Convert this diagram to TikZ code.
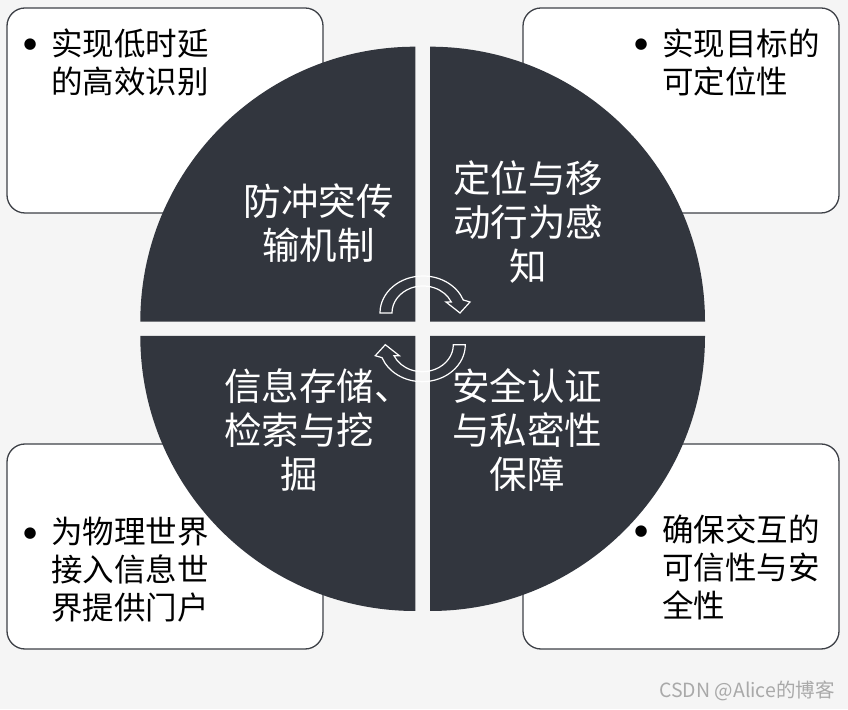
\documentclass[tikz,border=0pt]{standalone}
\usepackage{fontspec}
\setmainfont{Noto Sans CJK SC}
\newfontfamily\dotfont{DejaVu Sans}
\usepackage{xcolor}
\usetikzlibrary{calc}
\definecolor{bgGray}{HTML}{F5F5F5}
\definecolor{sectorDark}{HTML}{32363E}
\definecolor{frameGray}{HTML}{3E4147}
\definecolor{markGray}{HTML}{A9A9A9}
\tikzset{
    infobox/.style={rectangle, draw=frameGray, line width=1.3pt, fill=white, rounded corners=18pt, minimum width=316pt, minimum height=205pt, inner sep=0pt},
    sector/.style={fill=sectorDark},
    sectortext/.style={text=white, align=center, inner sep=0pt, font=\fontsize{37.5}{44}\selectfont},
    note/.style={anchor=base west, inner sep=0pt, font=\fontsize{31.5}{36.5}\selectfont},
    cyclearrow/.style={draw=white, line width=1.2pt, line join=miter},
    watermark/.style={text=markGray, font=\fontsize{19.5}{21}\selectfont},
}
\newcommand{\bul}{\makebox[26pt][l]{\makebox[10pt]{\raisebox{6.5pt}{\dotfont\fontsize{15}{15}\selectfont ●}}}}

\begin{document}
\begin{tikzpicture}[x=1pt, y=1pt]
    \fill[bgGray] (0,0) rectangle (848,709);
    \useasboundingbox (0,0) rectangle (848,709);

    % note boxes behind the circle
    \node[infobox] (boxtl) at (165,598.5) {};
    \node[infobox] (boxtr) at (681,598.5) {};
    \node[infobox] (boxbl) at (165,162.5) {};
    \node[infobox] (boxbr) at (681,162.5) {};

    % circle split in four sectors
    \fill[sector] (415.3,387.3) -- ++(-275,0) arc[start angle=180, end angle=90, radius=275] -- cycle;
    \fill[sector] (430,387.3) -- ++(275,0) arc[start angle=0, end angle=90, radius=275] -- cycle;
    \fill[sector] (415.3,373) -- ++(-275,0) arc[start angle=180, end angle=270, radius=275] -- cycle;
    \fill[sector] (430,373) -- ++(275,0) arc[start angle=0, end angle=-90, radius=275] -- cycle;

    % two curved arrows in the middle
    \coordinate (ac) at (423,396);
    \coordinate (bc) at (422.3,364.3);
    \draw[cyclearrow] ($(ac)+(-43,0)$) arc[start angle=180, end angle=20.6, x radius=43, y radius=37] -- ($(ac)+(47,11)$) -- ($(ac)+(37,0)$) -- ($(ac)+(23,11)$) -- ($(ac)+(28.3,11)$) arc[start angle=24, end angle=180, x radius=31, y radius=27] -- cycle;
    \draw[cyclearrow] ($(bc)+(43,0)$) arc[start angle=0, end angle=-159.4, x radius=43, y radius=37] -- ($(bc)+(-47,-11)$) -- ($(bc)+(-37,0)$) -- ($(bc)+(-23,-11)$) -- ($(bc)+(-28.3,-11)$) arc[start angle=204, end angle=360, x radius=31, y radius=27] -- cycle;

    % sector titles
    \node[sectortext] (mac) at (318.5,486.25) {防冲突传\\输机制};
    \node[sectortext] (loc) at (528,487) {定位与移\\动行为感\\知};
    \node[sectortext] (data) at (299,278.5) {信息存储\rlap{、}\\检索与挖\\掘};
    \node[sectortext] (sec) at (527,278.5) {安全认证\\与私密性\\保障};

    % bullet notes
    \node[note] (reco) at (25,653.5) {\begin{tabular}[t]{@{}l@{}l@{}}\bul & 实现低时延\\ & 的高效识别\end{tabular}};
    \node[note] (pos) at (636,653.5) {\begin{tabular}[t]{@{}l@{}l@{}}\bul & 实现目标的\\ & 可定位性\end{tabular}};
    \node[note] (portal) at (25,165) {\begin{tabular}[t]{@{}l@{}l@{}}\bul & 为物理世界\\ & 接入信息世\\ & 界提供门户\end{tabular}};
    \node[note] (trust) at (636,167) {\begin{tabular}[t]{@{}l@{}l@{}}\bul & 确保交互的\\ & 可信性与安\\ & 全性\end{tabular}};

    \node[watermark] (mark) at (747,18) {CSDN @Alice的博客};
\end{tikzpicture}
\end{document}
